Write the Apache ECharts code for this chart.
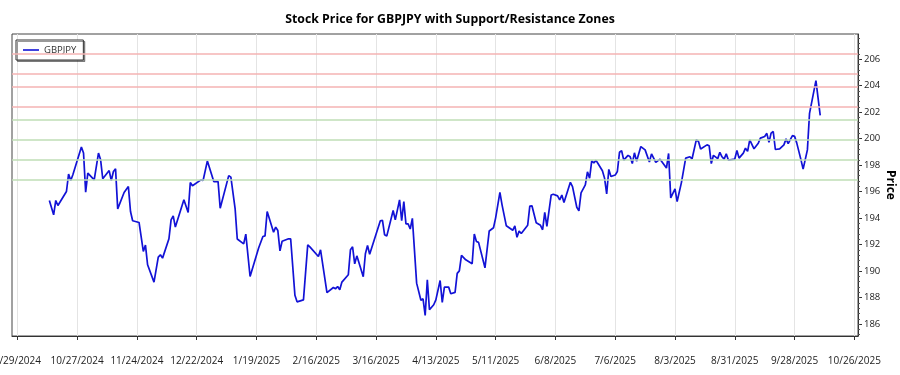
<!DOCTYPE html>
<html>
<head>
<meta charset="utf-8">
<script src="https://cdn.jsdelivr.net/npm/echarts@6/dist/echarts.min.js"></script>
<style>
  html, body { margin: 0; padding: 0; background: #fff; }
  #chart { width: 900px; height: 375px; }
</style>
</head>
<body>
<div id="chart"></div>
<script>
// GBPJPY closes
const dates = [
  '2024-10-14','2024-10-16','2024-10-17','2024-10-18','2024-10-22','2024-10-23','2024-10-24','2024-10-25','2024-10-29','2024-10-30',
  '2024-10-31','2024-11-01','2024-11-04','2024-11-06','2024-11-07','2024-11-08','2024-11-11','2024-11-12','2024-11-13','2024-11-14',
  '2024-11-15','2024-11-18','2024-11-20','2024-11-21','2024-11-22','2024-11-25','2024-11-27','2024-11-28','2024-11-29','2024-12-02',
  '2024-12-04','2024-12-05','2024-12-06','2024-12-09','2024-12-10','2024-12-11','2024-12-12','2024-12-16','2024-12-18','2024-12-19',
  '2024-12-20','2024-12-24','2024-12-25','2024-12-27','2024-12-30','2025-01-01','2025-01-02','2025-01-06','2025-01-07','2025-01-09',
  '2025-01-10','2025-01-13','2025-01-14','2025-01-16','2025-01-20','2025-01-22','2025-01-23','2025-01-24','2025-01-27','2025-01-28',
  '2025-01-29','2025-01-30','2025-01-31','2025-02-03','2025-02-04','2025-02-06','2025-02-07','2025-02-10','2025-02-12','2025-02-13',
  '2025-02-17','2025-02-18','2025-02-21','2025-02-24','2025-02-25','2025-02-26','2025-02-27','2025-02-28','2025-03-03','2025-03-04',
  '2025-03-05','2025-03-06','2025-03-07','2025-03-10','2025-03-11','2025-03-12','2025-03-13','2025-03-18','2025-03-19','2025-03-20',
  '2025-03-21','2025-03-24','2025-03-25','2025-03-27','2025-03-28','2025-03-29','2025-03-30','2025-03-31','2025-04-01','2025-04-02',
  '2025-04-04','2025-04-06','2025-04-07','2025-04-08','2025-04-09','2025-04-10','2025-04-12','2025-04-13','2025-04-15','2025-04-16',
  '2025-04-17','2025-04-19','2025-04-20','2025-04-22','2025-04-23','2025-04-24','2025-04-25','2025-04-27','2025-04-30','2025-05-01',
  '2025-05-02','2025-05-03','2025-05-06','2025-05-08','2025-05-10','2025-05-11','2025-05-13','2025-05-14','2025-05-16','2025-05-19',
  '2025-05-20','2025-05-21','2025-05-22','2025-05-23','2025-05-26','2025-05-27','2025-05-28','2025-05-30','2025-06-01','2025-06-02',
  '2025-06-03','2025-06-04','2025-06-06','2025-06-07','2025-06-09','2025-06-10','2025-06-11','2025-06-12','2025-06-15','2025-06-16',
  '2025-06-18','2025-06-19','2025-06-20','2025-06-22','2025-06-23','2025-06-24','2025-06-25','2025-06-26','2025-06-27','2025-06-28',
  '2025-06-30','2025-07-01','2025-07-02','2025-07-03','2025-07-04','2025-07-06','2025-07-07','2025-07-08','2025-07-09','2025-07-10',
  '2025-07-12','2025-07-13','2025-07-14','2025-07-15','2025-07-16','2025-07-18','2025-07-20','2025-07-22','2025-07-23','2025-07-25',
  '2025-07-27','2025-07-30','2025-07-31','2025-08-01','2025-08-03','2025-08-04','2025-08-06','2025-08-08','2025-08-10','2025-08-11',
  '2025-08-13','2025-08-14','2025-08-15','2025-08-18','2025-08-19','2025-08-20','2025-08-21','2025-08-23','2025-08-24','2025-08-25',
  '2025-08-26','2025-08-27','2025-08-28','2025-08-31','2025-09-01','2025-09-02','2025-09-04','2025-09-05','2025-09-06','2025-09-07',
  '2025-09-09','2025-09-11','2025-09-12','2025-09-14','2025-09-15','2025-09-16','2025-09-17','2025-09-18','2025-09-19','2025-09-21',
  '2025-09-23','2025-09-24','2025-09-25','2025-09-27','2025-09-28','2025-09-29','2025-10-01','2025-10-02','2025-10-04','2025-10-05',
  '2025-10-08','2025-10-10'
]
const prices = [
  195.33,194.25,195.33,194.95,196.01,197.32,196.84,197.27,199.36,198.91,
  195.96,197.40,196.89,198.91,198.40,196.97,197.59,196.84,197.52,197.72,
  194.70,195.93,196.38,194.50,193.80,193.67,191.48,191.96,190.48,189.17,
  191.06,191.23,190.98,192.44,193.87,194.17,193.32,195.38,194.42,196.69,
  196.44,196.89,196.84,198.32,196.76,196.76,194.75,197.21,197.09,194.70,
  192.42,192.06,192.79,189.59,191.74,192.61,192.66,194.50,192.94,193.32,
  193.06,191.53,192.25,192.44,192.44,188.17,187.68,187.83,191.98,191.83,
  191.10,191.61,188.38,188.76,188.66,188.84,188.59,189.17,189.72,191.61,
  191.83,190.55,191.15,189.57,191.31,191.93,191.27,193.80,193.83,192.74,
  192.64,194.57,193.87,195.38,193.80,195.25,193.57,193.57,193.18,193.98,
  189.09,187.80,187.91,186.65,189.34,187.08,187.46,187.83,189.29,187.63,
  188.79,188.79,188.29,188.39,189.83,190.02,191.19,190.85,190.55,192.80,
  192.23,192.17,190.25,193.03,193.27,194.02,195.95,195.00,193.42,193.08,
  193.42,192.55,193.02,192.84,193.46,194.91,194.93,193.65,193.46,193.12,
  194.44,193.37,195.74,195.80,195.68,195.38,195.74,195.18,196.70,196.38,
  194.82,194.55,195.91,196.51,197.49,197.02,198.32,198.17,198.36,198.10,
  197.58,197.02,195.82,197.68,197.14,197.25,197.52,198.97,199.09,198.38,
  198.74,198.63,198.12,198.93,198.30,199.40,199.15,198.23,198.85,198.21,
  198.45,197.78,198.88,195.53,196.20,195.25,196.68,198.53,198.63,198.48,
  199.93,199.78,199.22,199.53,199.46,198.12,198.74,198.49,198.97,198.63,
  198.45,198.85,198.38,198.46,199.10,198.53,198.91,199.28,199.04,199.91,
  199.23,199.66,200.04,200.16,200.40,199.72,200.42,200.54,199.18,199.23,
  199.53,199.98,199.63,200.23,200.17,199.68,198.40,197.70,199.15,201.91,
  204.38,201.76
]

// zone bounds
const resistanceLines = [206.4, 204.9, 203.9, 202.4]
const supportLines = [201.4, 199.9, 198.4, 196.9]

const xTickDates = ['2024-09-29','2024-10-27','2024-11-24','2024-12-22','2025-01-19','2025-02-16','2025-03-16',
  '2025-04-13','2025-05-11','2025-06-08','2025-07-06','2025-08-03','2025-08-31','2025-09-28','2025-10-26']
const yTicks = [186, 188, 190, 192, 194, 196, 198, 200, 202, 204, 206]

const DAY = 86400000
function toMs(s) {
  const p = s.split('-')
  return Date.UTC(+p[0], +p[1] - 1, +p[2])
}
function fmtDate(v) {
  const d = new Date(Math.round(v / DAY) * DAY)
  return (d.getUTCMonth() + 1) + '/' + d.getUTCDate() + '/' + d.getUTCFullYear()
}

const xMin = toMs('2024-09-29') - 2.5 * DAY
const xMax = toMs('2025-10-26') + 1.7 * DAY
const yMin = 185.1
const yMax = 207.9

const minorTicks = []
for (let v = 185.2; v < yMax; v += 0.4) minorTicks.push(+v.toFixed(1))

const seriesData = dates.map((d, i) => [toMs(d), prices[i]])
const zoneLines = resistanceLines.map(v => ({ yAxis: v, lineStyle: { color: '#f5b3b3' } }))
  .concat(supportLines.map(v => ({ yAxis: v, lineStyle: { color: '#bfdeb6' } })))

const font = 'Open Sans, Noto Sans, sans-serif'
const chart = echarts.init(document.getElementById('chart'))
chart.setOption({
  animation: false,
  textStyle: { fontFamily: font },
  title: {
    text: 'Stock Price for GBPJPY with Support/Resistance Zones',
    left: 'center',
    top: 8,
    textStyle: { fontSize: 12.3, fontWeight: 'bold', color: '#000', fontFamily: font }
  },
  legend: {
    data: ['GBPJPY'],
    left: 16,
    top: 40,
    padding: [4, 7],
    icon: 'path://M0 0H20V2H0Z',
    itemWidth: 16,
    itemHeight: 2,
    itemGap: 5,
    backgroundColor: '#fff',
    borderColor: '#333',
    borderWidth: 1,
    borderRadius: 0,
    shadowColor: 'rgba(0,0,0,0.4)',
    shadowOffsetX: 1.5,
    shadowOffsetY: 1.5,
    shadowBlur: 0,
    textStyle: { fontSize: 9.5, color: '#333', fontFamily: font, lineHeight: 12 }
  },
  grid: {
    left: 12, right: 42, top: 34, bottom: 39,
    containLabel: false,
    outerBoundsMode: 'none',
    show: true, borderColor: '#444', borderWidth: 1
  },
  xAxis: {
    type: 'value',
    min: xMin,
    max: xMax,
    axisLine: { lineStyle: { color: '#333' } },
    axisTick: { show: true, length: 4, customValues: xTickDates.map(toMs), lineStyle: { color: '#333' } },
    axisLabel: {
      customValues: xTickDates.map(toMs),
      formatter: fmtDate,
      fontSize: 10,
      color: '#222',
      margin: 20
    },
    splitLine: { show: true, lineStyle: { color: '#e4e4e4', width: 1 } }
  },
  yAxis: [{
    type: 'value',
    position: 'right',
    min: yMin,
    max: yMax,
    name: 'Price',
    nameLocation: 'middle',
    nameRotate: -90,
    nameGap: 26,
    nameMoveOverlap: false,
    nameTextStyle: { fontSize: 12, fontWeight: 'bold', color: '#000', fontFamily: font },
    axisLine: { show: true, lineStyle: { color: '#333' } },
    axisTick: { show: true, length: 4, customValues: yTicks, lineStyle: { color: '#333' } },
    axisLabel: { customValues: yTicks, fontSize: 9.5, color: '#222', margin: 6 },
    splitLine: { show: false }
  }, {
    type: 'value',
    position: 'right',
    min: yMin,
    max: yMax,
    axisLine: { show: false },
    axisLabel: { show: false },
    axisTick: { show: true, length: 2, customValues: minorTicks, lineStyle: { color: '#555' } },
    splitLine: { show: false }
  }],
  series: [{
    name: 'GBPJPY',
    type: 'line',
    data: seriesData,
    symbol: 'none',
    lineStyle: { color: '#1212d6', width: 1.7 },
    itemStyle: { color: '#1212d6' },
    markLine: {
      silent: true,
      symbol: ['none', 'none'],
      label: { show: false },
      lineStyle: { type: 'solid', width: 1.5 },
      data: zoneLines
    },
    z: 3
  }]
})
</script>
</body>
</html>
